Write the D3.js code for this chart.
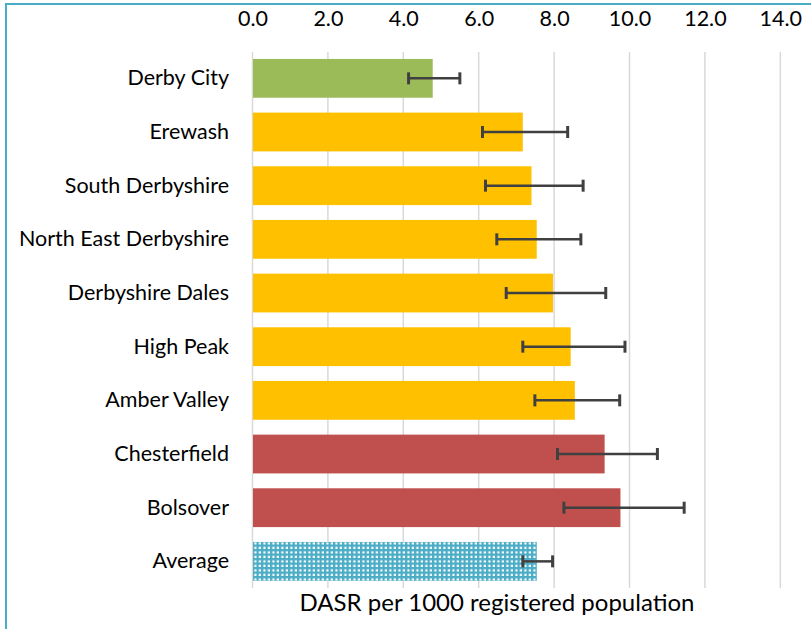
<!DOCTYPE html>
<html><head><meta charset="utf-8">
<script src="https://cdn.jsdelivr.net/npm/d3@7"></script>
<style>body{margin:0;background:#fff}svg{display:block}text{font-family:Lato,"Open Sans",sans-serif;fill:#000}</style>
</head><body><svg id="c" width="811" height="629"></svg>
<script>
const categories = ["Derby City","Erewash","South Derbyshire","North East Derbyshire","Derbyshire Dales","High Peak","Amber Valley","Chesterfield","Bolsover","Average"];
const values = [4.78,7.17,7.40,7.54,7.97,8.44,8.55,9.34,9.76,7.54];
const lower = [4.14,6.10,6.18,6.48,6.73,7.17,7.49,8.09,8.26,7.17];
const upper = [5.50,8.36,8.77,8.71,9.37,9.88,9.74,10.74,11.45,7.96];
const groups = ["green","amber","amber","amber","amber","amber","amber","red","red","avg"];
const tickValues = [0,2,4,6,8,10,12,14];
const axisTitle = "DASR per 1000 registered population";

const colors = {green:"#9bbb59", amber:"#ffc000", red:"#c0504d", avg:"url(#dots)"};
const svg = d3.select("#c");
const defs = svg.append("defs");
const pat = defs.append("pattern").attr("id","dots").attr("patternUnits","userSpaceOnUse")
  .attr("width",4.5).attr("height",4.5);
pat.append("rect").attr("width",4.5).attr("height",4.5).attr("fill","#4bacc6");
pat.append("rect").attr("x",2.3).attr("y",2.3).attr("width",2.2).attr("height",2.2).attr("fill","#fff");

// border
svg.append("rect").attr("x",6).attr("y",4).attr("width",900).attr("height",900)
  .attr("fill","none").attr("stroke","#4bacc6").attr("stroke-width",2);

const x = d3.scaleLinear().domain([0,14]).range([252.5,780.3]);
const y = d3.scaleBand().domain(categories).range([51.5,588.2]).paddingInner(0.277).paddingOuter(0.1385);

// gridlines
svg.append("g").selectAll("line").data(tickValues).join("line")
  .attr("x1",d=>x(d)).attr("x2",d=>x(d)).attr("y1",52).attr("y2",588)
  .attr("stroke","#d9d9d9").attr("stroke-width",1.5);

// top axis labels
const ax = svg.append("g").attr("transform","translate(0,29)")
  .call(d3.axisTop(x).tickValues(tickValues).tickFormat(d3.format(".1f")).tickSize(0));
ax.select(".domain").remove();
ax.selectAll("text").attr("font-size",21.5).attr("font-family","Lato,'Open Sans',sans-serif").attr("fill","#000").attr("dy",0);

// bars
svg.append("g").selectAll("rect").data(categories).join("rect")
  .attr("x",x(0)+0.5).attr("y",d=>y(d))
  .attr("width",(d,i)=>x(values[i])-x(0)-0.5).attr("height",y.bandwidth())
  .attr("fill",(d,i)=>colors[groups[i]]);

// category labels
const ay = svg.append("g").attr("transform","translate(229,0)")
  .call(d3.axisLeft(y).tickSize(0).tickPadding(0));
ay.select(".domain").remove();
ay.selectAll("text").attr("font-size",21.5).attr("font-family","Lato,'Open Sans',sans-serif").attr("fill","#000");

// error bars
const eb = svg.append("g").attr("stroke","#404040").attr("stroke-width",2.5);
categories.forEach((c,i)=>{
  const cy = y(c)+y.bandwidth()/2;
  eb.append("line").attr("x1",x(lower[i])).attr("x2",x(upper[i])).attr("y1",cy).attr("y2",cy);
  [lower[i],upper[i]].forEach(v=>{
    eb.append("line").attr("x1",x(v)).attr("x2",x(v)).attr("y1",cy-6).attr("y2",cy+6).attr("stroke-width",3);
  });
});

svg.append("text").attr("x",497).attr("y",611).attr("text-anchor","middle")
  .attr("font-size",24).text(axisTitle);
</script></body></html>
